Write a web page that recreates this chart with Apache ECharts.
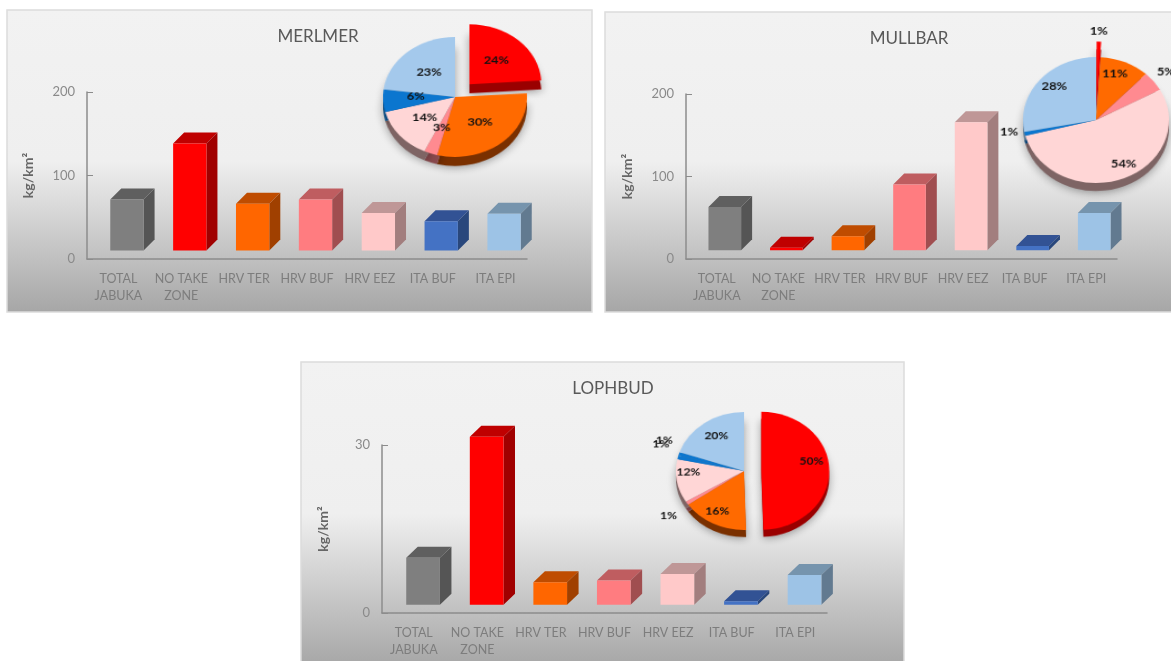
<!DOCTYPE html>
<html>
<head>
<meta charset="utf-8">
<style>
html,body{margin:0;padding:0;background:#fff;overflow:hidden}
#stage{position:relative;width:1171px;height:661px;overflow:hidden}
#chart{position:absolute;left:0;top:0;width:1171px;height:661px}
.pie{position:absolute;width:340px;height:340px}
</style>
<script src="https://cdn.jsdelivr.net/npm/echarts@6/dist/echarts.min.js"></script>
</head>
<body>
<div id="stage"><div id="chart"></div></div>
<script>
// Biomass per protection zone, kg/km2, one bar panel and one share pie per species.
const categories = ['TOTAL\nJABUKA', 'NO TAKE\nZONE', 'HRV TER', 'HRV BUF', 'HRV EEZ', 'ITA BUF', 'ITA EPI'];
const merlmerBars = [61, 128, 56, 61, 45, 35, 44];
const mullbarBars = [52.5, 3, 17, 79.5, 155, 5, 45];
const lophbudBars = [8.4, 30, 4, 4.3, 5.5, 0.6, 5.3];

const merlmerSlices = ['NO TAKE ZONE', 'HRV TER', 'HRV BUF', 'HRV EEZ', 'ITA BUF', 'ITA EPI'];
const merlmerShares = [24, 30, 3, 14, 6, 23];
const mullbarSlices = ['NO TAKE ZONE', 'HRV TER', 'HRV BUF', 'HRV EEZ', 'ITA BUF', 'ITA EPI'];
const mullbarShares = [1, 11, 5, 54, 1, 28];
const lophbudSlices = ['NO TAKE ZONE', 'HRV TER', 'HRV BUF', 'HRV EEZ', 'ITA BUF', 'ITA TER', 'ITA EPI'];
const lophbudShares = [50, 16, 1, 12, 1, 1, 20];

// Front, top and side faces of each prism.
const barFront = ['#7f7f7f', '#ff0000', '#ff6600', '#ff7c80', '#ffc9c9', '#4472c4', '#9dc3e6'];
const barTop = ['#5f5f5f', '#bf0000', '#bf4c00', '#bf5d60', '#bf9797', '#325294', '#7694ad'];
const barSide = ['#555555', '#a00000', '#a04000', '#a04e50', '#a27e7e', '#29477c', '#627a90'];

const sliceFace = {
  'NO TAKE ZONE': '#ff0000', 'HRV TER': '#ff6a00', 'HRV BUF': '#ff8a90',
  'HRV EEZ': '#ffd6d6', 'ITA BUF': '#0b76cf', 'ITA TER': '#0b76cf', 'ITA EPI': '#a4c9ec'
};
const sliceWall = {
  'NO TAKE ZONE': '#9a0000', 'HRV TER': '#7a3000', 'HRV BUF': '#8a4a4e',
  'HRV EEZ': '#7e6464', 'ITA BUF': '#0a4a80', 'ITA TER': '#0a4a80', 'ITA EPI': '#5c7a94'
};

const FONT = 'Lato, "Open Sans", sans-serif';
const PIE_R = 65;
const panels = [
  { title: 'MERLMER', titleX: 313, titleY: 23, box: [7, 10, 585, 302],
    grid: [87, 92, 440, 167], max: 200, interval: 100, step: [11, 11], lift: [8.5, 8.5],
    bars: merlmerBars, slices: merlmerSlices, shares: merlmerShares,
    pie: { c: [455, 97], rx: 72, ry: 60, depth: 9, offset: 19, outside: {},
      nudge: { 'ITA BUF': [0, -3] } } },
  { title: 'MULLBAR', titleX: 904, titleY: 25, box: [605, 12, 570, 300],
    grid: [686, 94, 431, 165], max: 200, interval: 100, step: [11, 11], lift: [8, 8.8],
    bars: mullbarBars, slices: mullbarSlices, shares: mullbarShares,
    pie: { c: [1096, 120], rx: 73, ry: 63, depth: 8, offset: 16,
      outside: { 'NO TAKE ZONE': 6, 'HRV BUF': 4, 'ITA BUF': 10 },
      nudge: { 'NO TAKE ZONE': [-15, -5], 'HRV TER': [3, -15], 'HRV BUF': [-6, -7], 'HRV EEZ': [13, 12],
        'ITA BUF': [10, -4], 'ITA EPI': [-11, -12] } } },
  { title: 'LOPHBUD', titleX: 608, titleY: 375, box: [301, 362, 603, 304],
    grid: [382, 445, 445, 168], max: 30, interval: 30, step: [11.5, 11], lift: [9.3, 8.3],
    bars: lophbudBars, slices: lophbudSlices, shares: lophbudShares,
    pie: { c: [744, 471], rx: 68, ry: 59, depth: 7, offset: 16.5,
      outside: { 'HRV BUF': 10, 'ITA BUF': 12, 'ITA TER': 10 },
      nudge: { 'NO TAKE ZONE': [13, -9], 'HRV TER': [-10, 11], 'HRV BUF': [4, 8], 'HRV EEZ': [-19, -4],
        'ITA BUF': [9, -11], 'ITA TER': [9, -11], 'ITA EPI': [-6, -9] } } }
];

// One prism: the front face sits on the shifted floor, top and side recede up and to the right.
function prismRenderer(panel) {
  const [dx, dy] = panel.step;
  const [lx, ly] = panel.lift;
  return function (params, api) {
    const i = api.value(0);
    const base = api.coord([i, 0]);
    const tip = api.coord([i, api.value(1)]);
    const w = api.size([1, 0])[0] * 0.53;
    const x0 = base[0] + lx - w / 2, x1 = x0 + w;
    const y0 = base[1] - ly, y1 = tip[1] - ly;
    return {
      type: 'group',
      children: [
        { type: 'polygon', shape: { points: [[x0, y1], [x1, y1], [x1 + dx, y1 - dy], [x0 + dx, y1 - dy]] },
          style: { fill: barTop[i] } },
        { type: 'polygon', shape: { points: [[x1, y0], [x1 + dx, y0 - dy], [x1 + dx, y1 - dy], [x1, y1]] },
          style: { fill: barSide[i] } },
        { type: 'rect', shape: { x: x0, y: y1, width: w, height: y0 - y1 }, style: { fill: barFront[i] } }
      ]
    };
  };
}

function pieData(panel, palette, withLabels) {
  return panel.slices.map((name, k) => {
    const item = {
      name, value: panel.shares[k],
      selected: name === 'NO TAKE ZONE',
      itemStyle: { color: palette[name] }
    };
    if (withLabels && panel.pie.outside[name] !== undefined) {
      item.label = { position: 'outside' };
      item.labelLine = { show: false, length: panel.pie.outside[name], length2: 0 };
    }
    return item;
  });
}

const grids = [], xAxes = [], yAxes = [], barSeries = [], titles = [], backdrops = [];
panels.forEach((p, n) => {
  backdrops.push({
    type: 'rect', z: -10, silent: true,
    shape: { x: p.box[0], y: p.box[1], width: p.box[2], height: p.box[3] },
    style: {
      stroke: '#dcdcdc', lineWidth: 1.5,
      fill: new echarts.graphic.LinearGradient(0, 0, 0, 1, [
        { offset: 0, color: '#f2f2f2' }, { offset: 0.5, color: '#efefef' }, { offset: 1, color: '#a6a6a6' }
      ])
    }
  });
  titles.push({
    text: p.title, left: p.titleX, top: p.titleY, textAlign: 'center',
    textStyle: { color: '#595959', fontFamily: FONT, fontSize: 17, fontWeight: 'normal' }
  });
  grids.push({ left: p.grid[0], top: p.grid[1], width: p.grid[2], height: p.grid[3], containLabel: false });
  xAxes.push({
    type: 'category', gridIndex: n, data: categories,
    axisLine: { lineStyle: { color: '#8c8c8c', width: 1.5 } }, axisTick: { show: false },
    axisLabel: { interval: 0, color: '#7d7d7d', fontFamily: FONT, fontSize: 12.5, lineHeight: 17, margin: 11 }
  });
  yAxes.push({
    type: 'value', gridIndex: n, min: 0, max: p.max, interval: p.interval,
    name: 'kg/km²', nameLocation: 'middle', nameRotate: 90, nameGap: 52,
    nameTextStyle: { color: '#666', fontFamily: FONT, fontSize: 14, fontWeight: 'bold' },
    axisLine: { show: true, lineStyle: { color: '#8c8c8c', width: 1.5 } },
    axisTick: { show: true, inside: true, length: 6, lineStyle: { color: '#8c8c8c' } },
    splitLine: { show: false },
    axisLabel: { color: '#8a8a8a', fontFamily: FONT, fontSize: 13, margin: 12 }
  });
  barSeries.push({
    type: 'custom', xAxisIndex: n, yAxisIndex: n, clip: false, z: 3,
    data: p.bars.map((v, i) => [i, v]), encode: { x: 0, y: 1 }, renderItem: prismRenderer(p)
  });
});

const chart = echarts.init(document.getElementById('chart'));
chart.setOption({
  backgroundColor: '#ffffff', animation: false,
  title: titles, grid: grids, xAxis: xAxes, yAxis: yAxes, series: barSeries,
  graphic: { elements: backdrops }
});

// Each pie gets its own layer, squeezed into the ellipse of a tilted disc.
panels.forEach(p => {
  const layer = document.createElement('div');
  layer.className = 'pie';
  const sx = p.pie.rx / PIE_R, sy = p.pie.ry / PIE_R;
  layer.style.left = (p.pie.c[0] - 170) + 'px';
  layer.style.top = (p.pie.c[1] - 170) + 'px';
  layer.style.transform = 'scale(' + sx + ',' + sy + ')';
  document.getElementById('stage').appendChild(layer);
  const nudge = p.pie.nudge;
  const pies = echarts.init(layer, null, { width: 340, height: 340 });
  pies.setOption({
    animation: false,
    series: [
      // Wall of the disc: a darker copy slid down under the face.
      { type: 'pie', z: 4, silent: true, startAngle: 90, clockwise: true,
        center: [170, 170 + p.pie.depth / sy], radius: PIE_R,
        selectedMode: 'multiple', selectedOffset: p.pie.offset,
        label: { show: false }, labelLine: { show: false },
        itemStyle: { shadowBlur: 9, shadowColor: 'rgba(0,0,0,0.35)', shadowOffsetY: 2 },
        data: pieData(p, sliceWall, false) },
      { type: 'pie', z: 5, startAngle: 90, clockwise: true,
        center: [170, 170], radius: PIE_R, avoidLabelOverlap: false,
        selectedMode: 'multiple', selectedOffset: p.pie.offset,
        label: { show: true, position: 'inside', formatter: '{c}%', color: '#111',
          fontFamily: FONT, fontSize: 11.5, fontWeight: 'bold' },
        labelLine: { show: false },
        emphasis: { disabled: true },
        labelLayout: params => {
          const d = nudge[p.slices[params.dataIndex]];
          return d ? { dx: d[0] / sx, dy: d[1] / sy } : {};
        },
        data: pieData(p, sliceFace, true) }
    ]
  });
});
</script>
</body>
</html>
